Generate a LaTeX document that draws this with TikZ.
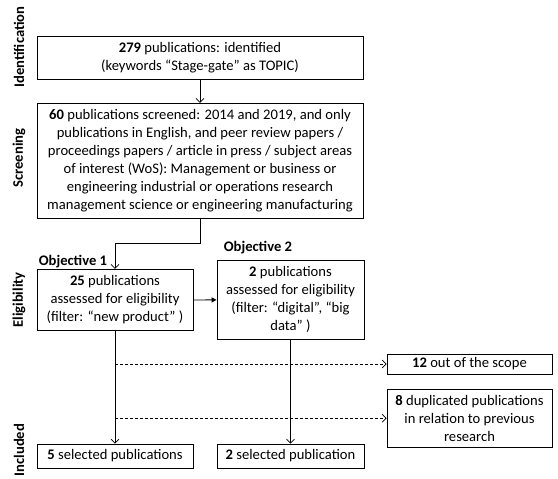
\documentclass[tikz,border=0pt]{standalone}
\usepackage{fontspec}
\setmainfont{Carlito}
\usetikzlibrary{arrows.meta}
\begin{document}
\begin{tikzpicture}[x=1pt,y=-1pt,
  box/.style={draw,line width=0.9pt,align=center,inner sep=0pt,
    font=\fontsize{14.6}{18}\selectfont},
  lbl/.style={font=\fontsize{14.6}{18}\selectfont\bfseries},
  side/.style={font=\fontsize{14.6}{18}\selectfont\bfseries,rotate=90},
  arr/.style={line width=0.7pt,-{Straight Barb[length=4pt,width=8pt]}},
  darr/.style={line width=0.7pt,dash pattern=on 3pt off 2pt,-{Straight Barb[length=4pt,width=8pt]}},
  farr/.style={line width=0.9pt,-{Triangle[length=5pt,width=5pt]}}]
\useasboundingbox (0,0) rectangle (558,479);
\node[box,minimum width=326pt,minimum height=42.6pt] (b1) at (200,58)
  {\textbf{279} publications: identified\\(keywords “Stage-gate” as TOPIC)};
\node[box,minimum width=326pt,minimum height=115pt] (b2) at (200,160.8)
  {\textbf{60} publications screened: 2014 and 2019, and only\\
   publications in English, and peer review papers /\\
   proceedings papers / article in press / subject areas\\
   of interest (WoS): Management or business or\\
   engineering industrial or operations research\\
   management science or engineering manufacturing};
\node[box,minimum width=156pt,minimum height=61.4pt] (b3) at (115,300)
  {\textbf{25} publications\\assessed for eligibility\\(filter: “new product” )};
\node[box,minimum width=147pt,minimum height=78.3pt] (b4) at (290.5,299.9)
  {\textbf{2} publications\\assessed for eligibility\\(filter: “digital”, “big\\data” )};
\node[box,minimum width=165pt,minimum height=20pt] (b5) at (469.5,364)
  {\textbf{12} out of the scope};
\node[box,minimum width=165pt,minimum height=58.3pt] (b6) at (469.5,418.2)
  {\textbf{8} duplicated publications\\in relation to previous\\research};
\node[box,minimum width=156pt,minimum height=24pt] (b7) at (115,456)
  {\textbf{5} selected publications};
\node[box,minimum width=147pt,minimum height=24pt] (b8) at (290.5,456)
  {\textbf{2} selected publication};
\node[lbl] (o1) at (73,261.7) {Objective 1};
\node[lbl] (o2) at (258,247.3) {Objective 2};
\node[side] (s1) at (19,47) {Identification};
\node[side] (s2) at (19,158) {Screening};
\node[side] (s3) at (19,300) {Eligibility};
\node[side] (s4) at (19,450) {Included};
\coordinate (c1) at (115,243);
\draw[arr] (b1.south) -- (b2.north);
\draw[arr] (b2.south) |- (c1) -- (b3.north);
\draw[farr] (b3.east) -- (b4.west);
\draw[arr] (b3.south) -- (b7.north);
\draw[arr] (b4.south) -- (b8.north);
\draw[darr] (b5.west -| b3.south) -- (b5.west);
\draw[darr] (b6.west -| b3.south) -- (b6.west);
\end{tikzpicture}
\end{document}
